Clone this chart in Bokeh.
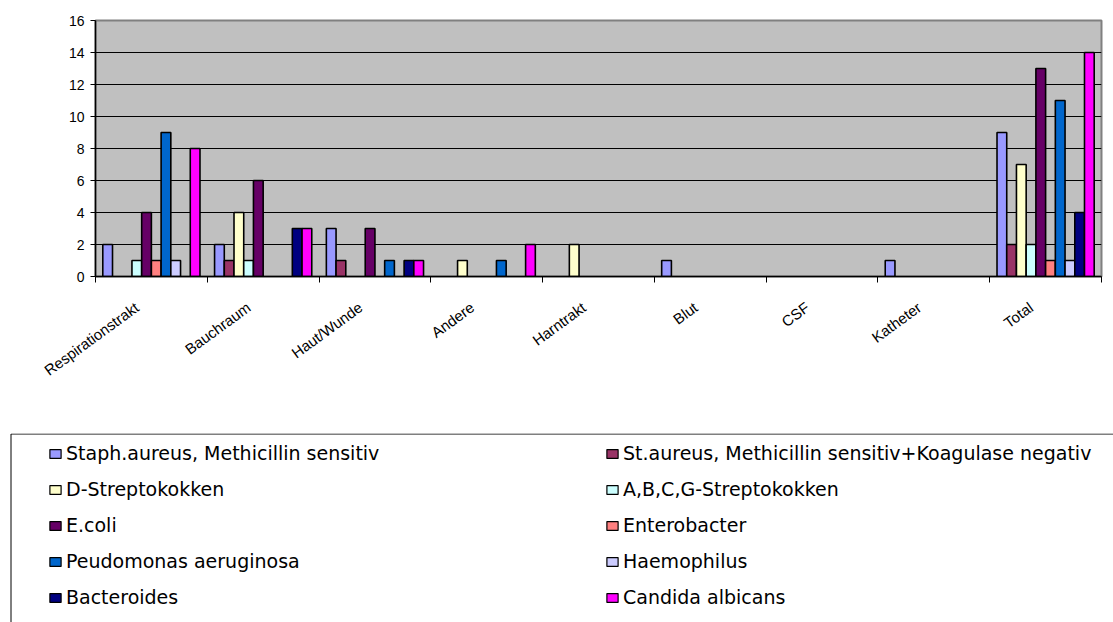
import math

from bokeh.embed import file_html
from bokeh.layouts import column
from bokeh.models import FixedTicker, Legend, LegendItem, Range1d, ColumnDataSource
from bokeh.plotting import figure
from bokeh.resources import INLINE

# Isolates per specimen site
categories = ["Respirationstrakt", "Bauchraum", "Haut/Wunde", "Andere", "Harntrakt",
              "Blut", "CSF", "Katheter", "Total"]

series_names = [
    "Staph.aureus, Methicillin sensitiv",
    "St.aureus, Methicillin sensitiv+Koagulase negativ",
    "D-Streptokokken",
    "A,B,C,G-Streptokokken",
    "E.coli",
    "Enterobacter",
    "Peudomonas aeruginosa",
    "Haemophilus",
    "Bacteroides",
    "Candida albicans",
]

staph_ms = [2, 2, 3, 0, 0, 1, 0, 1, 9]
st_aureus_kn = [0, 1, 1, 0, 0, 0, 0, 0, 2]
d_strep = [0, 4, 0, 1, 2, 0, 0, 0, 7]
abcg_strep = [1, 1, 0, 0, 0, 0, 0, 0, 2]
e_coli = [4, 6, 3, 0, 0, 0, 0, 0, 13]
enterobacter = [1, 0, 0, 0, 0, 0, 0, 0, 1]
pseudomonas = [9, 0, 1, 1, 0, 0, 0, 0, 11]
haemophilus = [1, 0, 0, 0, 0, 0, 0, 0, 1]
bacteroides = [0, 3, 1, 0, 0, 0, 0, 0, 4]
candida = [8, 3, 1, 2, 0, 0, 0, 0, 14]

series_values = [staph_ms, st_aureus_kn, d_strep, abcg_strep, e_coli,
                 enterobacter, pseudomonas, haemophilus, bacteroides, candida]

series_colors = ["#9999FF", "#993366", "#FFFFCC", "#CCFFFF", "#660066",
                 "#FF8080", "#0066CC", "#CCCCFF", "#000080", "#FF00FF"]

y_ticks = [0, 2, 4, 6, 8, 10, 12, 14, 16]

n_cat = len(categories)
n_ser = len(series_names)
bar_w = 1.0 / (n_ser + 1.5)          # gap between clusters = 1.5 bar widths

# ---- bar chart -------------------------------------------------------------
p = figure(width=1113, height=433,
           x_range=Range1d(0, n_cat), y_range=Range1d(0, 16),
           output_backend="svg", toolbar_location=None,
           min_border_left=95, min_border_right=12,
           min_border_top=20, min_border_bottom=157,
           background_fill_color="#C0C0C0", border_fill_color="white",
           outline_line_color="#808080", outline_line_width=2)

for k, (vals, col) in enumerate(zip(series_values, series_colors)):
    xs, tops = [], []
    for i, v in enumerate(vals):
        if v:
            xs.append(i + 0.5 + (k - (n_ser - 1) / 2) * bar_w)
            tops.append(v)
    src = ColumnDataSource(data=dict(x=xs, top=tops))
    p.vbar(x="x", top="top", bottom=0, width=bar_w, source=src,
           fill_color=col, line_color="black", line_width=1.6)

# y axis and grid
p.yaxis.ticker = FixedTicker(ticks=y_ticks)
p.yaxis.axis_line_color = "black"
p.yaxis.axis_line_width = 1.5
p.yaxis.major_tick_out = 5
p.yaxis.major_tick_in = 0
p.yaxis.major_tick_line_color = "black"
p.yaxis.minor_tick_line_color = None
p.yaxis.major_label_standoff = 6
p.yaxis.major_label_text_font = "Liberation Sans"
p.yaxis.major_label_text_font_size = "14px"
p.yaxis.major_label_text_color = "black"

p.ygrid.ticker = FixedTicker(ticks=y_ticks)
p.ygrid.grid_line_color = "black"
p.ygrid.grid_line_width = 1
p.xgrid.visible = False

# x axis: slanted labels ending left of each cluster centre,
# tick marks on the cluster boundaries
label_pos = [i + 0.37 for i in range(n_cat)]
p.xaxis.ticker = FixedTicker(ticks=label_pos, minor_ticks=list(range(n_cat + 1)))
p.xaxis.major_label_overrides = {c: name for c, name in zip(label_pos, categories)}
p.xaxis.axis_line_color = "black"
p.xaxis.axis_line_width = 1.5
p.xaxis.major_tick_line_color = None
p.xaxis.major_tick_out = 0
p.xaxis.major_tick_in = 0
p.xaxis.minor_tick_line_color = "black"
p.xaxis.minor_tick_out = 6
p.xaxis.minor_tick_in = 0
p.xaxis.major_label_orientation = math.atan(1 / 1.37)
p.xaxis.major_label_standoff = 23
p.xaxis.major_label_text_font = "Liberation Sans"
p.xaxis.major_label_text_font_size = "15px"
p.xaxis.major_label_text_color = "black"

# ---- legend panel (ranges in pixels of the panel) ----------------------------
LG_W, LG_H = 1113, 189
lg = figure(width=LG_W, height=LG_H,
            x_range=Range1d(0, LG_W), y_range=Range1d(0, LG_H),
            x_axis_type=None, y_axis_type=None,
            output_backend="svg", toolbar_location=None,
            min_border=0, outline_line_color=None,
            background_fill_color="white", border_fill_color="white")
lg.grid.visible = False

# keep each panel's frame where its own borders put it
for fig in (p, lg):
    if "frame_align" in fig.properties():
        fig.frame_align = False

# legend frame, running past the right and bottom edges
lg.quad(left=10.5, right=LG_W + 50, top=LG_H - 0.5, bottom=-50,
        fill_color="white", line_color="black", line_width=1)

# swatch sources lie far outside the panel; only their legend glyphs show
swatches = [lg.vbar(x=[-5000], top=[0], width=1, fill_color=col,
                    line_color="black", line_width=1.2)
            for col in series_colors]

legend = Legend(items=[LegendItem(label=n, renderers=[r]) for n, r in zip(series_names, swatches)],
                orientation="horizontal", ncols=2,
                location=(48, 14), padding=0, margin=0, spacing=14,
                glyph_width=14, glyph_height=11, label_standoff=4,
                label_width=525, label_height=22,
                label_text_font="DejaVu Sans", label_text_font_size="19px",
                label_text_color="black",
                border_line_color=None, background_fill_alpha=0)
lg.add_layout(legend, "center")

open("out.html", "w").write(file_html(column(p, lg, spacing=0), INLINE))
